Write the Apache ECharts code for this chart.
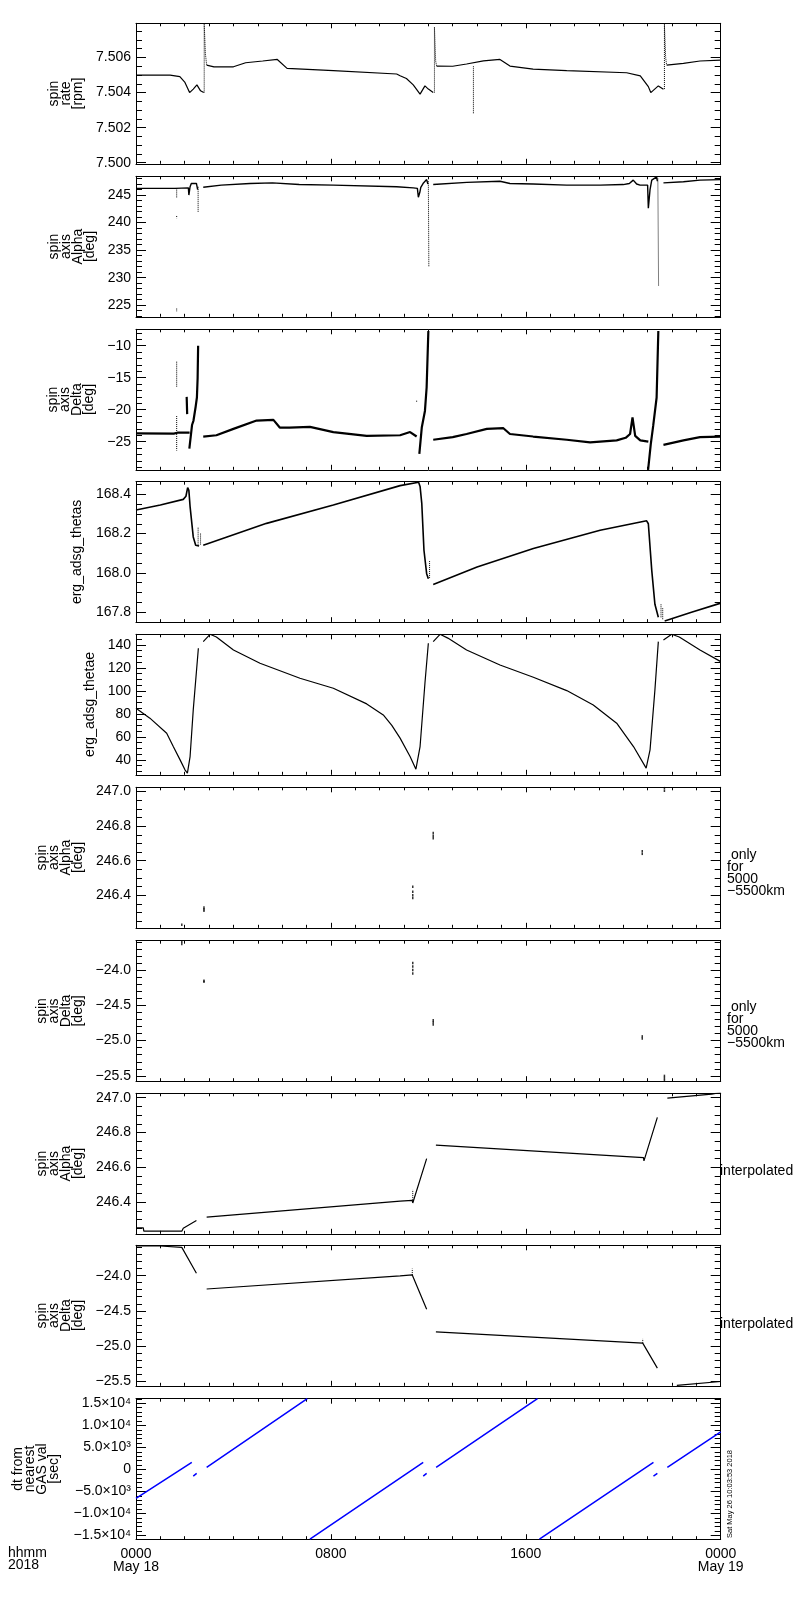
<!doctype html>
<html>
<head>
<meta charset="utf-8">
<title>ERG spin axis summary</title>
<script src="https://cdn.jsdelivr.net/npm/echarts@6/dist/echarts.min.js"></script>
<style>
body { margin: 0; background: #fff; }
#chart { width: 800px; height: 1600px; }
</style>
</head>
<body>
<div id="chart"></div>
<script>
// hours since 0000 May 18 2018, '-' breaks a line
var rateLine = [[0,7.5050],[1.4,7.5050],[1.8,7.50491],[2.0,7.5046],[2.2,7.5040],[2.35,7.5042],[2.5,7.50444],[2.65,7.5041],[2.78,7.5040],[2.79,'-'],
    [2.9,7.50557],[3.2,7.50547],[4.0,7.50547],[4.5,7.5057],[5.2,7.5058],[5.8,7.50589],[6.2,7.50538],[8.1,7.50525],[10.7,7.50506],[10.84,7.50496],[11.1,7.5048],[11.38,7.50444],[11.66,7.50391],[11.86,7.50438],[12.0,7.5042],[12.2,7.5040],[12.25,'-'],
    [12.34,7.50551],[13.0,7.5055],[13.57,7.50563],[14.26,7.50581],[14.94,7.50589],[15.35,7.50551],[16.3,7.50534],[17.68,7.50525],[20.14,7.50513],[20.7,7.50495],[21.03,7.50434],[21.13,7.5040],[21.44,7.50438],[21.65,7.50419],[21.7,'-'],
    [21.78,7.50557],[22.47,7.50567],[23.15,7.5058],[24,7.50585]];
var rateSpikes = [[2.8,7.5040],[2.8,7.5079],[2.85,7.5062],[2.9,7.50557],[2.9,'-'],
    [12.25,7.5040],[12.25,7.50774],[12.3,7.5058],[12.34,7.50551],[12.34,'-'],
    [21.69,7.5042],[21.69,7.5079],[21.74,7.5060],[21.78,7.50557],[21.78,'-'],
    [13.85,7.5055],[13.85,7.50278]];

var alphaLine = [[0,246.2],[1.6,246.2],[1.67,246.25],[2.15,246.3],[2.17,245.0],[2.22,246.5],[2.27,247.1],[2.48,247.1],[2.53,246.0],[2.6,'-'],
    [2.76,246.4],[3.5,246.8],[4.68,247.1],[5.6,247.2],[6.7,246.9],[8.1,246.8],[10.7,246.5],[11.38,246.3],[11.55,246.2],[11.59,244.6],[11.65,245.5],[11.69,246.4],[11.8,247.2],[11.93,247.8],[11.98,247.0],[12.1,'-'],
    [12.2,246.9],[13.58,247.3],[14.94,247.5],[15.35,247.1],[16.3,247.0],[17.68,246.8],[19.05,246.8],[20.0,246.9],[20.25,247.1],[20.41,247.7],[20.55,247.0],[20.69,246.8],[21.0,246.8],[21.03,242.6],[21.1,246.0],[21.17,247.7],[21.37,248.3],[21.4,247.5],[21.5,'-'],
    [21.65,247.2],[22.47,247.4],[23.15,247.7],[24,247.8]];
var alphaSpikes = [[1.67,246.2],[1.67,244.4],[1.67,'-'],[1.67,241.2],[1.67,240.8],[1.67,'-'],[1.67,224.4],[1.67,223.9],[1.67,'-'],
    [2.55,246.5],[2.55,241.9],[2.55,'-'],[12.0,247.5],[12.02,232],[12.02,'-'],[21.42,248],[21.45,228.4]];

var deltaLine = [[0,-23.7],[1.55,-23.75],[1.62,-23.85],[1.7,-23.6],[2.2,-23.6],[2.2,'-'],
    [2.08,-18],[2.1,-20.7],[2.1,'-'],
    [2.19,-26.1],[2.3,-22.4],[2.36,-21.7],[2.45,-19.5],[2.5,-18.1],[2.53,-15],[2.55,-10],[2.6,'-'],
    [2.76,-24.2],[3.3,-24.0],[4.0,-23.0],[4.95,-21.7],[5.64,-21.6],[5.9,-22.8],[6.3,-22.8],[7.14,-22.7],[8.1,-23.5],[9.47,-24.1],[10.84,-24.0],[11.25,-23.5],[11.52,-24.2],[11.55,'-'],
    [11.63,-26.9],[11.73,-22.8],[11.86,-20.2],[11.93,-16.5],[12.0,-7.7],[12.1,'-'],
    [12.2,-24.7],[13.0,-24.3],[13.57,-23.8],[14.4,-23.0],[15.08,-22.9],[15.35,-23.8],[16.3,-24.2],[17.68,-24.7],[18.64,-25.1],[19.73,-24.8],[20.1,-24.4],[20.28,-23.8],[20.38,-21.2],[20.49,-24.1],[20.7,-24.8],[21.03,-25.0],[21.03,'-'],
    [21.02,-29.4],[21.13,-25.4],[21.23,-22.5],[21.37,-18.1],[21.44,-7.7],[21.5,'-'],
    [21.65,-25.5],[22.47,-24.8],[23.15,-24.3],[24,-24.2]];
var deltaSpikes = [[1.67,-12.5],[1.67,-16.5],[1.67,'-'],[1.67,-21],[1.67,-26.4],[1.67,'-'],[11.52,-18.6],[11.52,-18.9]];

var thetasLine = [[0,168.32],[1.0,168.345],[1.94,168.374],[2.05,168.39],[2.12,168.434],[2.17,168.42],[2.22,168.337],[2.35,168.183],[2.45,168.141],[2.59,168.137],[2.65,'-'],
    [2.76,168.141],[5.36,168.252],[8.1,168.345],[10.84,168.444],[11.6,168.461],[11.66,168.44],[11.73,168.354],[11.82,168.115],[11.93,167.996],[12.0,167.97],[12.1,'-'],
    [12.2,167.941],[14.0,168.03],[16.31,168.124],[19.05,168.217],[20.96,168.265],[21.03,168.25],[21.17,168.013],[21.3,167.84],[21.44,167.774],[21.5,'-'],
    [21.7,167.755],[22.8,167.8],[24,167.846]];
var thetasDots = [[2.55,168.23],[2.55,168.14],[2.55,'-'],[2.65,168.2],[2.65,168.14],[2.65,'-'],[12.05,168.06],[12.05,167.97],[12.05,'-'],[21.55,167.84],[21.55,167.77],[21.55,'-'],[21.62,167.82],[21.62,167.76]];

var thetaeLine = [[0,85],[0.57,76.3],[1.26,63.2],[1.53,51.6],[1.81,40],[2.01,31.3],[2.11,28.4],[2.22,42.9],[2.35,83.5],[2.56,137.1],[2.65,'-'],
    [2.76,142.9],[3.04,149.3],[3.3,147],[4.0,135.7],[5.09,124.1],[6.73,111],[8.1,102.3],[9.47,88.7],[10.15,79.1],[10.5,70],[10.84,58.9],[11.25,42.9],[11.49,31.9],[11.66,51.6],[11.86,106.7],[12.0,141.5],[12.1,'-'],
    [12.2,142.9],[12.48,149.3],[12.8,146],[13.57,135.7],[14.94,122.6],[16.31,111.9],[17.68,100.3],[18.77,87.8],[19.73,71.9],[20.42,51.6],[20.94,32.8],[21.1,48.7],[21.3,100.9],[21.44,142.9],[21.5,'-'],
    [21.65,144.3],[21.99,149.3],[22.3,147],[23.15,135.7],[24,125.5]];

var alphaOnly = [[1.88,246.23],[2.79,246.31],[2.79,246.32],[2.79,246.33],[11.36,246.385],[11.36,246.40],[11.36,246.42],[11.36,246.45],[12.2,246.73],[12.2,246.745],[12.2,246.76],[20.78,246.64],[20.78,246.655],[21.69,247.005],[21.69,247.02]];
var deltaOnly = [[1.88,-23.6],[1.88,-23.63],[2.79,-24.15],[2.79,-24.165],[11.36,-23.9],[11.36,-23.95],[11.36,-24.0],[11.36,-24.05],[12.2,-24.71],[12.2,-24.74],[12.2,-24.77],[20.78,-24.94],[20.78,-24.97],[21.69,-25.5],[21.69,-25.53],[21.69,-25.56]];

var alphaInterp = [[0,246.252],[0.3,246.252],[0.32,246.233],[1.88,246.233],[1.94,246.25],[2.48,246.294],[2.6,'-'],
    [2.9,246.314],[10.84,246.406],[11.34,246.41],[11.36,246.395],[11.93,246.65],[12.1,'-'],
    [12.31,246.727],[20.83,246.656],[20.85,246.637],[21.4,246.887],[21.5,'-'],
    [21.81,246.997],[23.63,247.02],[24,247.03]];
var deltaInterp = [[0,-23.578],[0.99,-23.578],[1.0,-23.597],[1.88,-23.597],[2.48,-23.966],[2.6,'-'],
    [2.9,-24.19],[10.84,-24.004],[11.34,-23.99],[11.93,-24.477],[12.1,'-'],
    [12.31,-24.80],[20.8,-24.96],[21.4,-25.315],[21.5,'-'],
    [22.2,-25.56],[24,-25.506]];
var interpDots = [[11.36,246.40],[11.36,246.47]];
var interpDots2 = [[11.34,-23.99],[11.34,-23.9],[11.34,'-'],[20.8,-24.96],[20.8,-24.9]];

var dtLine = [[0,-6592],[2.29,1600],[2.3,'-'],[2.35,-1523],[2.49,-909],[2.5,'-'],
    [2.9,455],[7.03,16050],[7.1,'-'],[7.14,-15840],[11.79,1591],[11.79,'-'],[11.79,-1523],[11.93,-909],[12,'-'],
    [12.32,455],[16.48,16050],[16.5,'-'],[16.56,-15840],[21.24,1591],[21.24,'-'],[21.24,-1523],[21.4,-909],[21.5,'-'],
    [21.81,455],[24,8547]];

// axes per panel
var yNames = ['spin\nrate\n[rpm]', 'spin\naxis\nAlpha\n[deg]', 'spin\naxis\nDelta\n[deg]', 'erg_adsg_thetas', 'erg_adsg_thetae',
    'spin\naxis\nAlpha\n[deg]', 'spin\naxis\nDelta\n[deg]', 'spin\naxis\nAlpha\n[deg]', 'spin\naxis\nDelta\n[deg]', 'dt from\nnearest\nGAS val\n[sec]'];
var yRange = [[7.49994,7.50795],[222.9,248.4],[-29.4,-7.44],[167.749,168.464],[27,149.3],
    [246.212,247.025],[-25.575,-23.584],[246.218,247.025],[-25.567,-23.568],[-15840,16050]];
var yMajor = [
    [7.500,7.502,7.504,7.506],
    [225,230,235,240,245],
    [-25,-20,-15,-10],
    [167.8,168.0,168.2,168.4],
    [40,60,80,100,120,140],
    [246.4,246.6,246.8,247.0],
    [-25.5,-25.0,-24.5,-24.0],
    [246.4,246.6,246.8,247.0],
    [-25.5,-25.0,-24.5,-24.0],
    [-15000,-10000,-5000,0,5000,10000,15000]
];
var yMinorStep = [0.0005,1,1,0.05,5,0.05,0.1,0.05,0.1,1000];
var yDecimals = [3,0,0,1,0,1,1,1,1,-1];
var xTickLabels = {0: '0000\nMay 18', 8: '0800', 16: '1600', 24: '0000\nMay 19'};

var tops = [23.3,176.3,329.3,481.7,634.3,787.3,940.7,1093.3,1245.3,1398.7];
var nameGaps = [50,38,39,53,39,50,52,50,52,76];
var FONT = '"Liberation Sans", "DejaVu Sans", sans-serif';

function minorTicks(i) {
    var s = yMinorStep[i], r = yRange[i], out = [];
    for (var k = Math.ceil(r[0] / s - 1e-9); k * s <= r[1] + 1e-12; k++) out.push(+(k * s).toFixed(6));
    return out;
}
var sup = {3: '\u00b3', 4: '\u2074'};
function labelFmt(i) {
    return function (v) {
        var s;
        if (yDecimals[i] < 0) {
            if (v === 0) return '0';
            var a = Math.abs(v), e = Math.floor(Math.log10(a) + 1e-9);
            s = (v < 0 ? '-' : '') + (a / Math.pow(10, e)).toFixed(1) + '\u00d710' + sup[e];
        } else {
            s = v.toFixed(yDecimals[i]);
        }
        return s.replace('-', '\u2212');
    };
}

var grids = [], xAxes = [], yAxes = [], series = [];
tops.forEach(function (t, i) {
    grids.push({left: 136, top: t, width: 584.7, height: 140.5, containLabel: false, outerBoundsMode: 'none'});
    ['bottom', 'top'].forEach(function (pos) {
        xAxes.push({
            type: 'value', gridIndex: i, position: pos, min: 0, max: 24, interval: 8,
            axisLine: {onZero: false, lineStyle: {color: '#000', width: 1}},
            axisTick: {inside: true, length: 5, lineStyle: {color: '#000'}},
            minorTick: {show: true, splitNumber: 8, length: 3, lineStyle: {color: '#000'}},
            splitLine: {show: false},
            axisLabel: {
                show: i === 9 && pos === 'bottom', margin: 8, showMinLabel: true, showMaxLabel: true,
                fontFamily: FONT, fontSize: 14, lineHeight: 13, color: '#000',
                formatter: function (v) { return xTickLabels[v]; }
            }
        });
    });
    ['left', 'right'].forEach(function (pos) {
        yAxes.push({
            type: 'value', gridIndex: i, position: pos, min: yRange[i][0], max: yRange[i][1],
            name: pos === 'left' ? yNames[i] : '', nameLocation: 'middle', nameRotate: 90, nameGap: nameGaps[i],
            nameTextStyle: {fontFamily: FONT, fontSize: 14, lineHeight: 12, color: '#000'},
            axisLine: {show: true, lineStyle: {color: '#000', width: 1}},
            axisTick: {inside: true, length: 10, customValues: yMajor[i], lineStyle: {color: '#000'}},
            splitLine: {show: false},
            axisLabel: {
                show: pos === 'left', customValues: yMajor[i], margin: 5,
                fontFamily: FONT, fontSize: 14, color: '#000', formatter: labelFmt(i)
            }
        });
        yAxes.push({
            type: 'value', gridIndex: i, position: pos, min: yRange[i][0], max: yRange[i][1],
            axisLine: {show: false},
            axisTick: {inside: true, length: 6, customValues: minorTicks(i), lineStyle: {color: '#000'}},
            splitLine: {show: false},
            axisLabel: {show: false}
        });
    });
});

function addLine(panel, data, opts) {
    opts = opts || {};
    series.push({
        type: 'line', xAxisIndex: panel * 2, yAxisIndex: panel * 4, data: data,
        symbol: 'none', showSymbol: false, clip: true, connectNulls: false,
        lineStyle: {color: opts.color || '#000', width: opts.width || 1, type: opts.dash || 'solid'}
    });
}
function addDots(panel, data) {
    series.push({
        type: 'scatter', xAxisIndex: panel * 2, yAxisIndex: panel * 4, data: data,
        symbol: 'rect', symbolSize: [1.5, 2.5], itemStyle: {color: '#000'}
    });
}

addLine(0, rateLine, {width: 1.2});
addLine(0, rateSpikes, {dash: 'dotted'});
addLine(1, alphaLine, {width: 1.4});
addLine(1, alphaSpikes, {dash: 'dotted'});
addLine(2, deltaLine, {width: 2.2});
addLine(2, deltaSpikes, {dash: 'dotted'});
addLine(3, thetasLine, {width: 1.6});
addLine(3, thetasDots, {dash: 'dotted'});
addLine(4, thetaeLine, {width: 1.2});
addDots(5, alphaOnly);
addDots(6, deltaOnly);
addLine(7, alphaInterp, {width: 1.2});
addLine(7, interpDots, {dash: 'dotted'});
addLine(8, deltaInterp, {width: 1.2});
addLine(8, interpDots2, {dash: 'dotted'});
addLine(9, dtLine, {color: '#0000ff', width: 1.5});

var sideStyle = {fontFamily: FONT, fontSize: 14, lineHeight: 12, fill: '#000'};
var myChart = echarts.init(document.getElementById('chart'), null, {renderer: 'canvas'});
var option = {
    animation: false,
    backgroundColor: '#fff',
    grid: grids,
    xAxis: xAxes,
    yAxis: yAxes,
    series: series,
    graphic: [
        {type: 'text', x: 8, y: 1547, style: Object.assign({text: 'hhmm\n2018', lineHeight: 13}, sideStyle)},
        {type: 'text', x: 727, y: 849, style: Object.assign({text: ' only\nfor\n5000\n\u22125500km'}, sideStyle)},
        {type: 'text', x: 727, y: 1001, style: Object.assign({text: ' only\nfor\n5000\n\u22125500km'}, sideStyle)},
        {type: 'text', x: 720, y: 1165, style: Object.assign({text: 'interpolated'}, sideStyle)},
        {type: 'text', x: 720, y: 1318, style: Object.assign({text: 'interpolated'}, sideStyle)},
        {type: 'text', x: 730, y: 1494, rotation: Math.PI / 2,
            style: {text: 'Sat May 26 10:03:53 2018', fontFamily: FONT, fontSize: 7.5, fill: '#000', align: 'center', verticalAlign: 'middle'}}
    ]
};
myChart.setOption(option);
</script>
</body>
</html>
